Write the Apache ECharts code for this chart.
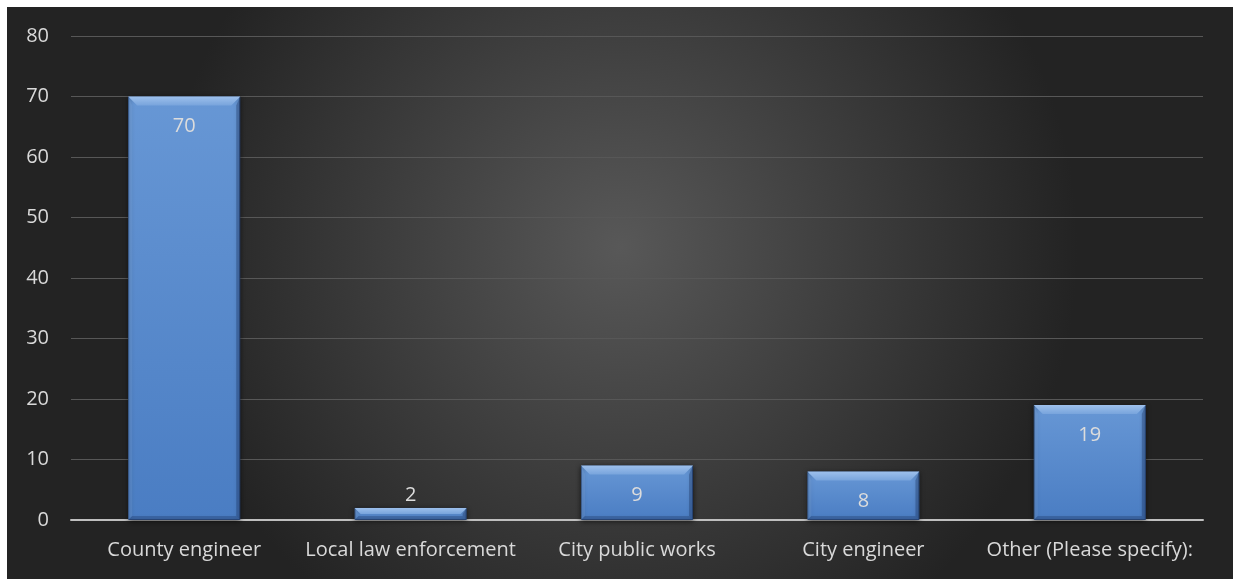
<!DOCTYPE html>
<html>
<head>
<meta charset="utf-8">
<script src="https://cdn.jsdelivr.net/npm/echarts@6/dist/echarts.min.js"></script>
<style>
html,body{margin:0;padding:0;background:#fff;}
#c{position:absolute;left:7px;top:7px;width:1226px;height:572px;}
</style>
</head>
<body>
<div id="c"></div>
<script>
const categories = ["County engineer", "Local law enforcement", "City public works", "City engineer", "Other (Please specify):"];
const values = [70, 2, 9, 8, 19];
const yTicks = { min: 0, max: 80, interval: 10 };

const BAR_RATIO = 0.495;
const chart = echarts.init(document.getElementById('c'));
chart.setOption({
  animation: false,
  backgroundColor: {
    type: 'radial', x: 0.5, y: 0.42, r: 0.8,
    colorStops: [{offset: 0, color: '#585858'}, {offset: 1, color: '#232323'}]
  },
  grid: { left: 64, right: 30, top: 29, bottom: 59 },
  xAxis: {
    type: 'category',
    data: categories,
    axisLine: { lineStyle: { color: '#bfbfbf', width: 2 } },
    axisTick: { show: false },
    axisLabel: { interval: 0, color: '#d9d9d9', fontSize: 20, fontFamily: 'Open Sans', margin: 20 }
  },
  yAxis: {
    type: 'value',
    min: yTicks.min, max: yTicks.max, interval: yTicks.interval,
    axisLine: { show: false },
    axisTick: { show: false },
    axisLabel: { color: '#d9d9d9', fontSize: 20, fontFamily: 'Open Sans', margin: 22 },
    splitLine: { lineStyle: { color: '#575757', width: 1 } }
  },
  series: [{
    type: 'bar',
    z: 2,
    data: values.map(v => v < 5 ? { value: v, label: { position: 'top', distance: 3 } } : v),
    barWidth: (BAR_RATIO * 100) + '%',
    itemStyle: {
      color: {
        type: 'linear', x: 0, y: 0, x2: 0, y2: 1,
        colorStops: [{offset: 0, color: '#6797d5'}, {offset: 1, color: '#4a7dc3'}]
      },
      borderColor: '#2e4e7e',
      borderWidth: 1,
      shadowColor: 'rgba(0,0,0,0.55)',
      shadowBlur: 5,
      shadowOffsetY: 1
    },
    label: {
      show: true,
      position: 'insideTop',
      distance: 20,
      color: '#dcdcdc',
      fontSize: 20,
      fontFamily: 'Open Sans'
    }
  }, {
    type: 'custom',
    z: 3,
    silent: true,
    data: values.map((v, i) => [i, v]),
    renderItem: function (params, api) {
      const base = api.coord([api.value(0), 0]);
      const topP = api.coord([api.value(0), api.value(1)]);
      const bw = api.size([1, 0])[0] * BAR_RATIO;
      const l = base[0] - bw / 2, r = base[0] + bw / 2;
      const t = topP[1], b = base[1];
      const d = Math.min(9, (b - t) / 2);
      const s = Math.min(4, (b - t) / 2);
      return {
        type: 'group',
        children: [
          { type: 'polygon', shape: { points: [[r, t], [r - s, t + d], [r - s, b - s], [r, b]] },
            style: { fill: 'rgba(25,50,95,0.35)' } },
          { type: 'polygon', shape: { points: [[l, t], [l + s, t + d], [l + s, b - s], [l, b]] },
            style: { fill: 'rgba(140,175,225,0.18)' } },
          { type: 'polygon', shape: { points: [[l, b], [l + s, b - s], [r - s, b - s], [r, b]] },
            style: { fill: 'rgba(25,50,95,0.3)' } },
          { type: 'polygon', shape: { points: [[l, t], [r, t], [r - d, t + d], [l + d, t + d]] },
            style: { fill: { type: 'linear', x: 0, y: 0, x2: 0, y2: 1,
              colorStops: [{offset: 0, color: '#9dc0ec'}, {offset: 1, color: '#78a4dc'}] } } }
        ]
      };
    }
  }]
});
</script>
</body>
</html>
